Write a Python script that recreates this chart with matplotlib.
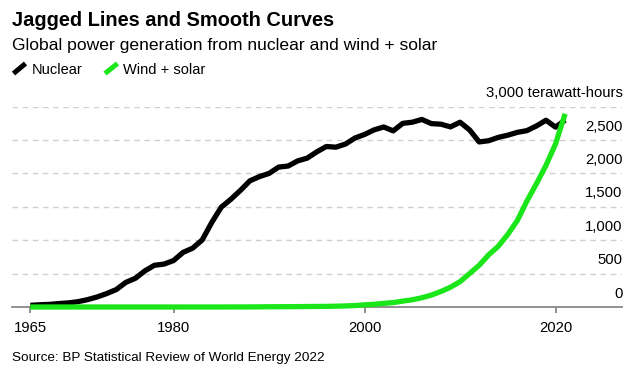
import matplotlib
matplotlib.use("Agg")
import matplotlib.pyplot as plt
from matplotlib.lines import Line2D
from matplotlib.transforms import blended_transform_factory

plt.rcParams['font.family'] = ['Liberation Sans', 'DejaVu Sans']

years = list(range(1965, 2022))
nuclear = [25.2, 33.5, 39.5, 51.7, 61.6, 79.8, 110.5, 150.2, 201.3, 260.8,
           368.6, 429.8, 541.6, 624.9, 642.4, 695.7, 818.1, 880.7, 1004.3, 1265.8,
           1495.5, 1613.4, 1746.2, 1890.6, 1953.5, 2000.5, 2095.4, 2111.4, 2188.6, 2229.8,
           2323.5, 2403.9, 2393.7, 2440.8, 2531.2, 2584.2, 2652.7, 2696.3, 2637.9, 2750.8,
           2767.8, 2808.9, 2746.5, 2737.8, 2697.9, 2767.5, 2652.0, 2472.3, 2490.5, 2540.1,
           2573.3, 2615.6, 2641.8, 2711.6, 2797.1, 2694.0, 2800.3]
wind_solar = [0.0, 0.0, 0.0, 0.0, 0.0, 0.0, 0.0, 0.0, 0.0, 0.0,
              0.0, 0.0, 0.0, 0.0, 0.0, 0.0, 0.0, 0.1, 0.1, 0.2,
              0.3, 0.5, 0.8, 1.2, 2.4, 3.9, 4.2, 4.8, 5.6, 7.1,
              8.4, 9.5, 12.0, 16.0, 21.9, 32.5, 39.9, 54.3, 66.0, 88.0,
              108.3, 138.6, 178.3, 232.2, 296.4, 379.5, 501.4, 624.1, 782.4, 908.9,
              1087.8, 1295.5, 1587.2, 1846.4, 2121.2, 2442.8, 2894.4]

series_names = ["Nuclear", "Wind + solar"]
series_colors = ["#000000", "#1ae61a"]

xtick_values = [1965, 1980, 2000, 2020]
xtick_labels = ["1965", "1980", "2000", "2020"]
ytick_values = [0, 500, 1000, 1500, 2000, 2500, 3000]
ytick_labels = ["0", "500", "1,000", "1,500", "2,000", "2,500", "3,000 terawatt-hours"]

title = "Jagged Lines and Smooth Curves"
subtitle = "Global power generation from nuclear and wind + solar"
source = "Source: BP Statistical Review of World Energy 2022"

W, H = 634, 378
fig = plt.figure(figsize=(W / 100, H / 100), dpi=100)
fig.patch.set_facecolor("white")

left_px, right_px, bottom_px, top_px = 12, 621.7, 307, 106.7
ax = fig.add_axes([left_px / W, 1 - bottom_px / H,
                   (right_px - left_px) / W, (bottom_px - top_px) / H])

x0 = 1965 + (left_px - 30.3) / 9.55
x1 = 1965 + (right_px - 30.3) / 9.55
ax.set_xlim(x0, x1)
ax.set_ylim(0, 3000)

for v in ytick_values[1:]:
    ax.axhline(v, color="#d0d0d0", lw=1.0, ls=(0, (4, 3.3)), zorder=1)

ax.plot(years, nuclear, color=series_colors[0], lw=3.8, zorder=3,
        solid_joinstyle="round", solid_capstyle="butt", clip_on=False)
ax.plot(years, wind_solar, color=series_colors[1], lw=3.8, zorder=4,
        solid_joinstyle="round", solid_capstyle="butt", clip_on=False)

for s in ["top", "right", "left"]:
    ax.spines[s].set_visible(False)
ax.spines["bottom"].set_color("#888888")
ax.spines["bottom"].set_linewidth(1.3)
ax.spines["bottom"].set_zorder(2)

ax.set_yticks([])
ax.set_xticks(xtick_values)
ax.set_xticklabels(xtick_labels)
ax.tick_params(axis="x", length=4, width=1.3, color="#888888", pad=6,
               labelsize=10.7, labelcolor="#000000")
ax.set_facecolor("none")

trans = blended_transform_factory(fig.transFigure, ax.transData)
for v, lab in zip(ytick_values, ytick_labels):
    ax.annotate(lab, xy=(622.7 / W, v), xycoords=trans,
                xytext=(0, 9.7), textcoords="offset points",
                ha="right", va="center", fontsize=10.7, color="#000000")

fig.text(12.5 / W, 1 - 26 / H, title, fontsize=14.4, fontweight="bold",
         ha="left", va="baseline")
fig.text(12.5 / W, 1 - 50 / H, subtitle, fontsize=12.6,
         ha="left", va="baseline")

leg_base = 1 - 74 / H
swatch_x = [(13.5, 25.5), (105, 117.5)]
text_x = [31.5, 122.7]
for (sx0, sx1), tx, name, col in zip(swatch_x, text_x, series_names, series_colors):
    fig.add_artist(Line2D([sx0 / W, sx1 / W], [1 - 73.5 / H, 1 - 63.5 / H],
                          transform=fig.transFigure, color=col, lw=3.6,
                          solid_capstyle="butt"))
    fig.text(tx / W, leg_base, name, fontsize=10.5, ha="left", va="baseline")

fig.text(12 / W, 1 - 360.7 / H, source, fontsize=9.7, ha="left", va="baseline")

fig.savefig("out.png", dpi=100)
